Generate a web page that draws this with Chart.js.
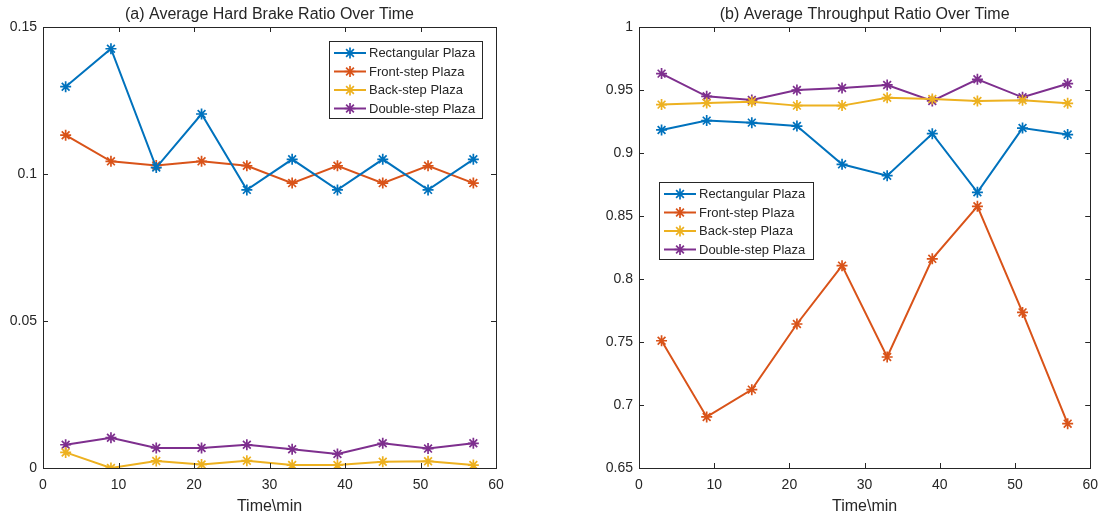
<!DOCTYPE html>
<html>
<head>
<meta charset="utf-8">
<script src="https://cdn.jsdelivr.net/npm/chart.js@4"></script>
<style>
html,body{margin:0;padding:0;background:#fff;}
#wrap{position:relative;width:1107px;height:521px;overflow:hidden;}
canvas{position:absolute;top:0;}
</style>
</head>
<body>
<div id="wrap">
<canvas id="c1" width="553" height="521" style="left:0px"></canvas>
<canvas id="c2" width="554" height="521" style="left:553px"></canvas>
</div>
<script>
// ---- data ----
const timeMin = [3, 9, 15, 21, 27, 33, 39, 45, 51, 57];
const seriesNames = ['Rectangular Plaza', 'Front-step Plaza', 'Back-step Plaza', 'Double-step Plaza'];
const seriesColors = ['#0072BD', '#D95319', '#EDB120', '#7E2F8E'];

const brakeRect   = [0.1297, 0.1426, 0.1022, 0.1204, 0.0946, 0.1050, 0.0946, 0.1050, 0.0946, 0.1050];
const brakeFront  = [0.1132, 0.1043, 0.1029, 0.1043, 0.1028, 0.0969, 0.1028, 0.0969, 0.1028, 0.0969];
const brakeBack   = [0.0053, 0.0000, 0.0024, 0.0012, 0.0025, 0.0010, 0.0010, 0.0021, 0.0023, 0.0010];
const brakeDouble = [0.0079, 0.0103, 0.0068, 0.0068, 0.0079, 0.0064, 0.0048, 0.0084, 0.0066, 0.0084];

const thruRect   = [0.9183, 0.9257, 0.9241, 0.9214, 0.8910, 0.8820, 0.9153, 0.8688, 0.9198, 0.9146];
const thruFront  = [0.7510, 0.6905, 0.7122, 0.7643, 0.8106, 0.7381, 0.8160, 0.8577, 0.7735, 0.6852];
const thruBack   = [0.9384, 0.9397, 0.9407, 0.9376, 0.9376, 0.9439, 0.9429, 0.9413, 0.9418, 0.9394];
const thruDouble = [0.9630, 0.9450, 0.9420, 0.9500, 0.9516, 0.9540, 0.9413, 0.9585, 0.9442, 0.9550];

const titleA = '(a) Average Hard Brake Ratio Over Time';
const titleB = '(b) Average Throughput Ratio Over Time';
const xLabel = 'Time\\min';

const FONT = "'Liberation Sans', Arial, Helvetica, sans-serif";
const TXT = '#262626';

function makeDatasets(arrs) {
  return arrs.map((vals, i) => ({
    label: seriesNames[i],
    data: vals.map((v, k) => ({x: timeMin[k], y: v})),
    borderColor: seriesColors[i],
    backgroundColor: seriesColors[i],
    borderWidth: 2,
    pointStyle: 'star',
    pointRadius: 5.5,
    pointBorderWidth: 1.7,
    pointBorderColor: seriesColors[i],
    tension: 0,
    fill: false
  }));
}

function fmt(v) { return String(parseFloat(Number(v).toFixed(4))); }

// box + inward ticks
const boxPlugin = {
  id: 'boxPlugin',
  afterDatasetsDraw(chart) {
    const ctx = chart.ctx, a = chart.chartArea;
    const xs = chart.scales.x, ys = chart.scales.y;
    const L = 5;
    ctx.save();
    ctx.strokeStyle = TXT;
    ctx.lineWidth = 1;
    ctx.beginPath();
    xs.ticks.forEach(t => {
      const px = Math.round(xs.getPixelForValue(t.value)) + 0.5;
      ctx.moveTo(px, a.bottom); ctx.lineTo(px, a.bottom - L);
      ctx.moveTo(px, a.top); ctx.lineTo(px, a.top + L);
    });
    ys.ticks.forEach(t => {
      const py = Math.round(ys.getPixelForValue(t.value)) + 0.5;
      ctx.moveTo(a.left, py); ctx.lineTo(a.left + L, py);
      ctx.moveTo(a.right, py); ctx.lineTo(a.right - L, py);
    });
    ctx.stroke();
    ctx.strokeRect(Math.round(a.left) + 0.5, Math.round(a.top) + 0.5,
                   Math.round(a.right - a.left), Math.round(a.bottom - a.top));
    ctx.restore();
  }
};

// legend drawn inside axes
const boxLegend = {
  id: 'boxLegend',
  afterDraw(chart, args, opts) {
    const ctx = chart.ctx, a = chart.chartArea;
    const x0 = a.left + opts.dx, y0 = a.top + opts.dy;
    const w = opts.w, rowH = 18.5, h = opts.h;
    ctx.save();
    ctx.fillStyle = '#fff';
    ctx.fillRect(x0, y0, w, h);
    ctx.strokeStyle = TXT;
    ctx.lineWidth = 1;
    ctx.strokeRect(Math.round(x0) + 0.5, Math.round(y0) + 0.5, w, h);
    ctx.font = '13px ' + FONT;
    ctx.textBaseline = 'middle';
    chart.data.datasets.forEach((ds, i) => {
      const cy = y0 + 12 + i * rowH;
      ctx.strokeStyle = ds.borderColor;
      ctx.lineWidth = 2;
      ctx.beginPath();
      ctx.moveTo(x0 + 5, cy); ctx.lineTo(x0 + 37, cy);
      ctx.stroke();
      ctx.lineWidth = 1.7;
      Chart.helpers.drawPoint(ctx, {pointStyle: 'star', radius: 5.5, rotation: 0, borderWidth: 1.7}, x0 + 21, cy);
      ctx.fillStyle = TXT;
      ctx.fillText(ds.label, x0 + 40, cy + 0.5);
    });
    ctx.restore();
  }
};

function makeChart(id, datasets, title, yMin, yMax, yStep, yW, padRight, legendPos) {
  return new Chart(document.getElementById(id), {
    type: 'line',
    data: {datasets},
    options: {
      responsive: false,
      animation: false,
      devicePixelRatio: 1,
      layout: {padding: {left: 0, right: padRight, top: 0, bottom: 0}},
      plugins: {
        legend: {display: false},
        tooltip: {enabled: false},
        title: {
          display: true, text: title, fullSize: false,
          color: TXT, font: {family: FONT, size: 16, weight: 'normal'},
          padding: {top: 5, bottom: 2.8}
        },
        boxLegend: legendPos
      },
      scales: {
        x: {
          type: 'linear', min: 0, max: 60,
          ticks: {stepSize: 10, color: TXT, font: {family: FONT, size: 14}, padding: 9, maxRotation: 0, callback: fmt},
          grid: {display: true, drawOnChartArea: false, drawTicks: false},
          border: {display: false},
          title: {display: true, text: xLabel, color: TXT, font: {family: FONT, size: 16}, padding: {top: 0, bottom: 5}},
          afterFit(s) { s.height = 53; }
        },
        y: {
          type: 'linear', min: yMin, max: yMax,
          ticks: {stepSize: yStep, color: TXT, font: {family: FONT, size: 14}, padding: 6, callback: fmt},
          grid: {display: true, drawOnChartArea: false, drawTicks: false},
          border: {display: false},
          afterFit(s) { s.width = yW; }
        }
      }
    },
    plugins: [boxPlugin, boxLegend]
  });
}

makeChart('c1', makeDatasets([brakeRect, brakeFront, brakeBack, brakeDouble]), titleA,
  0, 0.15, 0.05, 43, 57, {dx: 286, dy: 14, w: 153, h: 77});
makeChart('c2', makeDatasets([thruRect, thruFront, thruBack, thruDouble]), titleB,
  0.65, 1, 0.05, 86, 16, {dx: 20, dy: 155, w: 154, h: 77});
</script>
</body>
</html>
